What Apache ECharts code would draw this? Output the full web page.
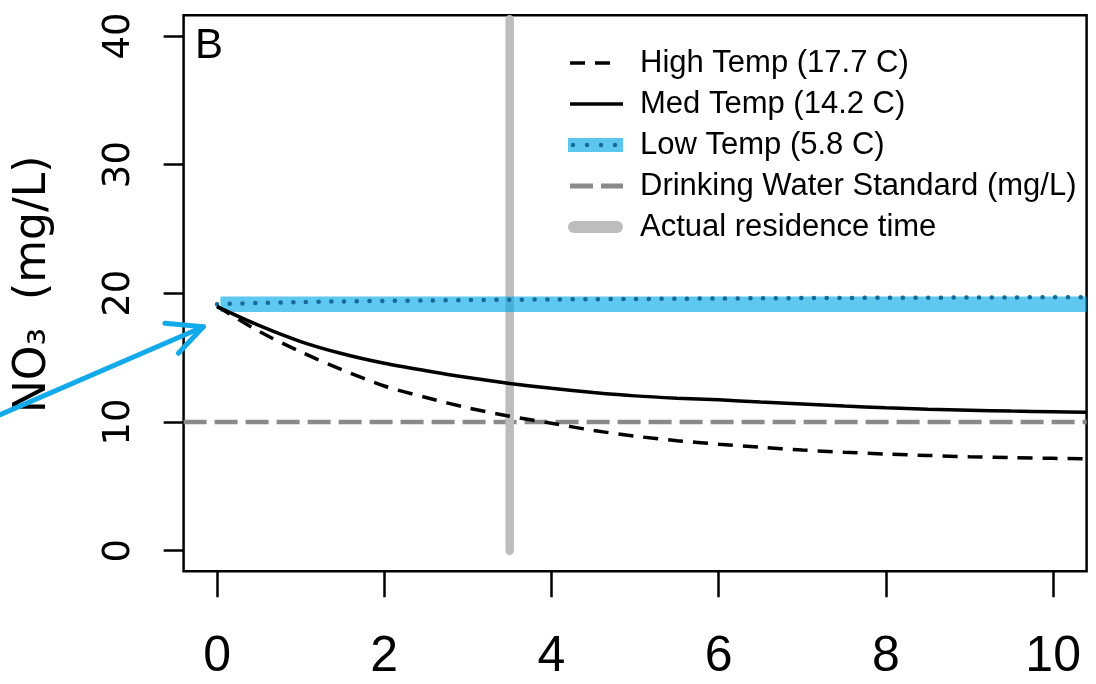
<!DOCTYPE html>
<html>
<head>
<meta charset="utf-8">
<script src="https://cdn.jsdelivr.net/npm/echarts@6/dist/echarts.min.js"></script>
<style>html,body{margin:0;padding:0;background:#fff;}#chart{width:1096px;height:684px;}</style>
</head>
<body>
<div id="chart"></div>
<script>
// ---- data ----
var timeYears = [0,0.5,1,1.5,2,2.5,3,3.5,4,4.5,5,5.5,6,6.5,7,7.5,8,8.5,9,9.5,10,10.4];
var highTemp  = [19.0,17.05,15.45,14.05,12.8,11.9,11.1,10.45,9.9,9.35,8.9,8.55,8.28,8.04,7.82,7.65,7.51,7.4,7.3,7.23,7.18,7.13];
var medTemp   = [18.96,17.5,16.25,15.3,14.56,13.98,13.45,13.0,12.62,12.3,12.03,11.85,11.72,11.55,11.4,11.24,11.1,11.0,10.92,10.85,10.8,10.75];
var lowTemp   = [19.15,19.25,19.32,19.37,19.41,19.44,19.47,19.5,19.52,19.54,19.56,19.58,19.6,19.61,19.63,19.64,19.65,19.66,19.67,19.68,19.69,19.7];
var lowBandX  = [0.04, 10.4];
var lowBandY  = [19.15, 19.15];
var standardX = [-0.4, 10.4];
var standardY = [10, 10];
var residenceX = [3.5, 3.5];
var residenceY = [0, 41.3];
var arrowX = [-2.667, -0.164];
var arrowY = [10.37, 17.40];
var arrowHeadX = [-0.623, -0.164, -0.463];
var arrowHeadY = [17.67, 17.40, 15.34];
var xTicks = [0,2,4,6,8,10];
var yTicks = [0,10,20,30,40];
var names = ['High Temp (17.7 C)','Med Temp (14.2 C)','Low Temp (5.8 C)','Drinking Water Standard (mg/L)','Actual residence time'];

function pairs(xs, ys){ return xs.map(function(x,i){return [x, ys[i]];}); }

var sans = "'Liberation Sans',Arial,sans-serif";
var wide = "'DejaVu Sans','Liberation Sans',sans-serif";

function svgIcon(body){
  return 'image://data:image/svg+xml;charset=utf-8,' + encodeURIComponent(
    '<svg xmlns="http://www.w3.org/2000/svg" width="55" height="14">' + body + '</svg>');
}
var icons = [
  svgIcon('<line x1="2" y1="7" x2="42" y2="7" stroke="#000" stroke-width="3.5" stroke-dasharray="15 10"/>'),
  svgIcon('<line x1="2" y1="7" x2="55" y2="7" stroke="#000" stroke-width="3.5"/>'),
  svgIcon('<rect x="0" y="0" width="55" height="14" fill="#5cc6ef"/>' +
    '<circle cx="5" cy="7" r="2.2" fill="#146a98"/><circle cx="19" cy="7" r="2.2" fill="#146a98"/>' +
    '<circle cx="33" cy="7" r="2.2" fill="#146a98"/><circle cx="47" cy="7" r="2.2" fill="#146a98"/>'),
  svgIcon('<line x1="2" y1="7" x2="55" y2="7" stroke="#8a8a8a" stroke-width="5" stroke-dasharray="23 8"/>'),
  svgIcon('<line x1="6" y1="7" x2="49" y2="7" stroke="#bdbdbd" stroke-width="12" stroke-linecap="round"/>')
];

var chart = echarts.init(document.getElementById('chart'), null, {renderer:'canvas'});
chart.setOption({
  animation: false,
  backgroundColor: '#fff',
  title: { text: 'B', left: 190, top: 20, textStyle: { fontFamily: sans, fontSize: 42, fontWeight: 'normal', color: '#000' } },
  grid: { left: 183.6, right: 9.4, top: 15.3, bottom: 112.7, show: true, borderColor: '#000', borderWidth: 2.5, backgroundColor: 'transparent' },
  legend: {
    orient: 'vertical', left: 563, top: 40, itemWidth: 55, itemHeight: 14, itemGap: 5,
    selectedMode: false,
    textStyle: { fontFamily: sans, fontSize: 31, color: '#000', lineHeight: 36, padding: [0,0,0,12] },
    data: names.map(function(n, i){ return { name: n, icon: icons[i] }; })
  },
  xAxis: {
    type: 'value', min: -0.4, max: 10.4,
    axisLine: { show: false, onZero: false },
    splitLine: { show: false },
    axisTick: { show: true, inside: false, length: 26, lineStyle: { color: '#000', width: 2.5 }, customValues: xTicks },
    axisLabel: { customValues: xTicks, margin: 61, fontFamily: sans, fontSize: 50, color: '#000' }
  },
  yAxis: {
    type: 'value', min: -1.6, max: 41.6,
    name: 'NO\u2083  (mg/L)', nameLocation: 'middle', nameRotate: 90, nameGap: 128,
    nameTextStyle: { fontFamily: wide, fontSize: 44, color: '#000', padding: [0,0,0,18] },
    axisLine: { show: false, onZero: false },
    splitLine: { show: false },
    axisTick: { show: true, inside: false, length: 20, lineStyle: { color: '#000', width: 2.5 }, customValues: yTicks },
    axisLabel: { customValues: yTicks, rotate: 90, margin: 46, fontFamily: wide, fontSize: 37, color: '#000' }
  },
  series: [
    { name: names[3], type: 'line', data: pairs(standardX, standardY), symbol: 'none', silent: true,
      lineStyle: { color: '#8a8a8a', width: 4.5, type: [23, 8] } },
    { name: names[4], type: 'line', data: pairs(residenceX, residenceY), symbol: 'none', silent: true,
      lineStyle: { color: '#bdbdbd', width: 8.5, cap: 'round' } },
    { name: names[2], type: 'line', data: pairs(lowBandX, lowBandY), symbol: 'none', silent: true,
      lineStyle: { color: 'rgba(0,168,232,0.63)', width: 15.5, cap: 'butt' } },
    { name: 'Low Temp dots', type: 'line', data: pairs(timeYears, lowTemp), symbol: 'none', silent: true, smooth: 0.3,
      lineStyle: { color: '#146a98', width: 4.5, type: [0.1, 12.6], cap: 'round' } },
    { name: names[1], type: 'line', data: pairs(timeYears, medTemp), symbol: 'none', silent: true, smooth: 0.3,
      lineStyle: { color: '#000', width: 3.5 } },
    { name: names[0], type: 'line', data: pairs(timeYears, highTemp), symbol: 'none', silent: true, smooth: 0.3,
      lineStyle: { color: '#000', width: 3.5, type: [15, 10] } }
  ]
});

// arrow annotation, positioned through the chart's own axes
function px(xs, ys){ return xs.map(function(x,i){ return chart.convertToPixel({gridIndex:0}, [x, ys[i]]); }); }
var arrowStyle = { stroke: '#12aaea', lineWidth: 5, lineCap: 'round', lineJoin: 'round', fill: null };
chart.setOption({
  graphic: [
    { type: 'polyline', shape: { points: px(arrowX, arrowY) }, style: arrowStyle, z: 100 },
    { type: 'polyline', shape: { points: px(arrowHeadX, arrowHeadY) }, style: arrowStyle, z: 100 }
  ]
});
</script>
</body>
</html>
